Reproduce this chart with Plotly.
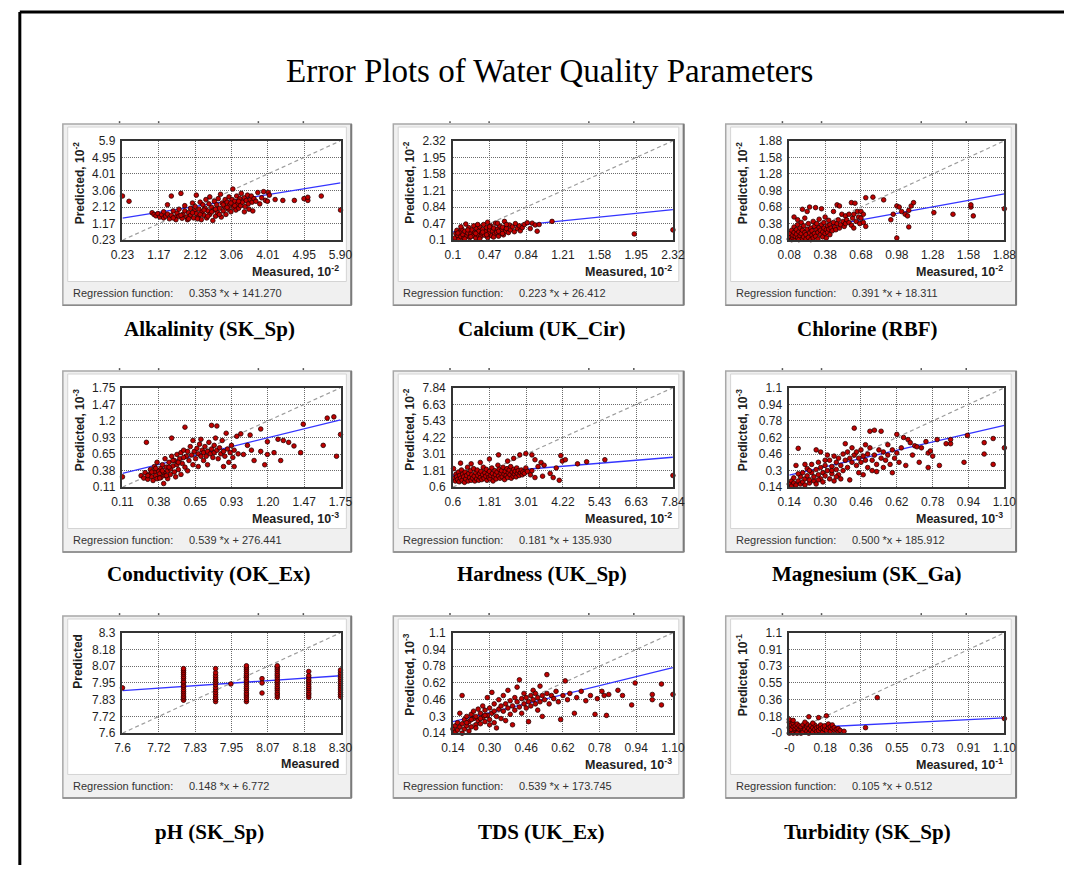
import numpy as np
import plotly.graph_objects as go

W, H = 1076, 872

# ---------------- data (display units) ----------------
alk_pts = [(0.23,2.75),(0.40,2.45),(1.00,1.80),(1.05,1.70),(1.10,1.62),(1.15,1.75),(1.20,1.55),(1.25,1.68),(1.30,1.50),(1.30,1.85),
 (1.35,1.60),(1.40,1.72),(1.40,2.25),(1.45,1.45),(1.50,1.65),(1.50,2.75),(1.55,1.90),(1.60,1.55),(1.62,1.40),(1.65,1.78),
 (1.70,1.60),(1.70,2.00),(1.75,2.90),(1.78,1.48),(1.80,1.70),(1.85,1.90),(1.85,2.20),(1.90,1.55),(1.92,1.40),(1.95,1.80),
 (2.00,2.05),(2.00,1.65),(2.05,2.35),(2.08,1.50),(2.10,1.90),(2.12,2.15),(2.15,1.75),(2.15,2.80),(2.20,1.55),(2.22,2.00),
 (2.25,2.40),(2.28,1.40),(2.30,1.85),(2.32,2.25),(2.35,1.65),(2.38,2.05),(2.40,2.55),(2.42,1.50),(2.45,1.90),(2.48,2.30),
 (2.50,1.70),(2.50,2.70),(2.55,2.10),(2.58,1.35),(2.60,1.95),(2.62,2.45),(2.65,1.60),(2.68,2.25),(2.70,1.80),(2.72,2.60),
 (2.75,2.05),(2.78,2.85),(2.80,1.55),(2.82,2.35),(2.85,1.90),(2.88,2.15),(2.90,2.55),(2.92,1.70),(2.95,2.40),(2.98,2.00),
 (3.00,2.70),(3.02,2.25),(3.05,1.85),(3.08,2.55),(3.10,3.15),(3.12,2.10),(3.15,2.45),(3.18,1.95),(3.20,2.75),(3.22,2.30),
 (3.25,2.05),(3.28,2.60),(3.30,2.20),(3.32,2.90),(3.35,2.40),(3.40,1.85),(3.40,2.65),(3.42,2.15),(3.45,2.50),(3.48,2.80),
 (3.50,2.30),(3.52,2.00),(3.55,2.55),(3.58,2.75),(3.60,2.40),(3.62,1.90),(3.65,2.60),(3.70,2.45),(3.75,2.95),(3.80,2.30),
 (3.85,2.65),(3.90,3.00),(3.95,2.50),(4.02,2.95),(4.05,2.80),(4.00,2.45),(4.20,2.55),(4.40,2.50),(4.70,2.50),(4.95,2.60),
 (5.05,2.50),(5.05,2.68),(5.40,2.75),(5.90,1.95),(1.55,1.50),(1.75,1.65),(1.95,1.45),(2.05,1.80),(2.25,1.70),(2.35,1.95),
 (2.55,1.85),(2.65,2.00),(2.75,1.70),(2.85,2.25),(2.95,2.10),(3.05,2.35),(3.15,2.20),(3.25,2.45),(2.45,1.60),(2.18,1.45)]

cal_pts = [(0.12,0.15),(0.13,0.25),(0.14,0.32),(0.15,0.20),(0.16,0.12),(0.17,0.28),(0.18,0.18),(0.19,0.35),(0.20,0.22),(0.21,0.14),
 (0.22,0.30),(0.23,0.46),(0.24,0.19),(0.25,0.26),(0.26,0.38),(0.27,0.16),(0.28,0.24),(0.29,0.33),(0.30,0.20),(0.31,0.42),
 (0.32,0.27),(0.33,0.15),(0.34,0.36),(0.35,0.22),(0.36,0.30),(0.37,0.40),(0.38,0.18),(0.39,0.26),(0.40,0.34),(0.41,0.45),
 (0.42,0.21),(0.43,0.29),(0.44,0.38),(0.45,0.16),(0.46,0.25),(0.47,0.33),(0.48,0.42),(0.49,0.20),(0.50,0.30),(0.51,0.37),
 (0.52,0.24),(0.53,0.48),(0.54,0.28),(0.55,0.35),(0.56,0.19),(0.57,0.42),(0.58,0.26),(0.59,0.32),(0.60,0.39),(0.61,0.22),
 (0.62,0.52),(0.63,0.30),(0.64,0.36),(0.66,0.27),(0.67,0.44),(0.68,0.33),(0.70,0.40),(0.72,0.29),(0.73,0.47),(0.75,0.36),
 (0.77,0.42),(0.78,0.31),(0.80,0.38),(0.82,0.45),(0.85,0.49),(0.88,0.36),(0.90,0.48),(0.93,0.44),(0.95,0.30),(0.97,0.45),
 (1.10,0.52),(1.93,0.24),(2.32,0.33),(0.15,0.26),(0.18,0.40),(0.22,0.13),(0.25,0.33),(0.28,0.18),(0.33,0.25),(0.37,0.13),
 (0.40,0.28),(0.44,0.22),(0.47,0.40),(0.51,0.17),(0.56,0.30),(0.60,0.25),(0.64,0.45),(0.35,0.45),(0.45,0.50),(0.55,0.48)]

chl_pts = [(0.08,0.10),(0.09,0.14),(0.09,0.20),(0.10,0.09),(0.10,0.26),(0.11,0.12),(0.11,0.17),(0.12,0.22),(0.12,0.32),(0.13,0.10),
 (0.13,0.15),(0.14,0.27),(0.14,0.19),(0.15,0.12),(0.15,0.36),(0.16,0.23),(0.16,0.09),(0.17,0.16),(0.17,0.30),(0.18,0.20),
 (0.18,0.40),(0.19,0.11),(0.19,0.26),(0.20,0.14),(0.20,0.34),(0.21,0.22),(0.21,0.48),(0.22,0.10),(0.22,0.18),(0.23,0.28),
 (0.23,0.60),(0.24,0.13),(0.24,0.38),(0.25,0.21),(0.25,0.68),(0.26,0.09),(0.26,0.30),(0.27,0.17),(0.27,0.25),(0.28,0.42),
 (0.28,0.12),(0.29,0.33),(0.29,0.20),(0.30,0.67),(0.30,0.15),(0.31,0.27),(0.31,0.38),(0.32,0.10),(0.32,0.22),(0.33,0.31),
 (0.33,0.46),(0.34,0.18),(0.34,0.26),(0.35,0.65),(0.35,0.36),(0.36,0.14),(0.36,0.23),(0.37,0.30),(0.37,0.40),(0.38,0.20),
 (0.38,0.50),(0.39,0.27),(0.39,0.12),(0.40,0.34),(0.40,0.22),(0.41,0.44),(0.41,0.28),(0.42,0.18),(0.42,0.36),(0.43,0.30),
 (0.44,0.25),(0.45,0.40),(0.45,0.60),(0.46,0.32),(0.47,0.27),(0.48,0.38),(0.48,0.72),(0.49,0.45),(0.50,0.30),(0.50,0.70),
 (0.51,0.36),(0.52,0.55),(0.53,0.42),(0.54,0.33),(0.55,0.52),(0.55,0.38),(0.56,0.45),(0.58,0.55),(0.58,0.40),(0.60,0.76),
 (0.60,0.35),(0.61,0.48),(0.62,0.55),(0.62,0.30),(0.63,0.75),(0.64,0.42),(0.65,0.60),(0.66,0.50),(0.67,0.38),(0.68,0.48),
 (0.68,0.60),(0.70,0.40),(0.70,0.55),(0.72,0.33),(0.72,0.85),(0.78,0.86),(0.87,0.81),(0.93,0.45),(0.95,0.55),(0.98,0.70),
 (0.98,0.12),(1.00,0.68),(1.02,0.60),(1.05,0.55),(1.07,0.52),(1.08,0.62),(1.08,0.32),(1.10,0.70),(1.12,0.76),(1.29,0.58),
 (1.45,0.55),(1.60,0.68),(1.60,0.72),(1.62,0.52),(1.88,0.65),(0.19,0.64),(0.12,0.50),(0.15,0.45)]

con_pts = [(0.11,0.28),(0.25,0.30),(0.27,0.26),(0.28,0.35),(0.29,0.85),(0.30,0.24),(0.31,0.32),(0.32,0.40),(0.33,0.28),(0.34,0.22),
 (0.35,0.36),(0.35,0.45),(0.36,0.30),(0.37,0.25),(0.37,0.52),(0.38,0.38),(0.39,0.33),(0.40,0.42),(0.40,0.27),(0.41,0.48),
 (0.42,0.35),(0.42,0.17),(0.43,0.58),(0.43,0.30),(0.44,0.44),(0.45,0.38),(0.45,0.25),(0.46,0.52),(0.47,0.41),(0.47,0.32),
 (0.48,0.62),(0.48,0.92),(0.49,0.46),(0.50,0.36),(0.50,0.55),(0.51,0.28),(0.52,0.48),(0.52,0.65),(0.53,0.40),(0.54,0.58),
 (0.55,0.32),(0.55,0.68),(0.56,0.50),(0.57,0.72),(0.58,0.44),(0.58,1.10),(0.59,0.62),(0.60,0.38),(0.60,0.70),(0.61,0.55),
 (0.62,0.78),(0.63,0.64),(0.64,0.48),(0.64,0.88),(0.65,0.70),(0.66,0.58),(0.67,0.75),(0.68,0.66),(0.68,0.45),(0.69,0.82),
 (0.70,0.62),(0.70,0.90),(0.71,0.72),(0.72,0.55),(0.72,0.68),(0.73,0.78),(0.74,0.62),(0.75,0.70),(0.75,0.48),(0.76,0.85),
 (0.77,0.66),(0.78,0.74),(0.78,1.13),(0.79,0.60),(0.80,0.80),(0.80,0.68),(0.81,0.92),(0.82,0.72),(0.82,1.12),(0.83,0.58),
 (0.84,0.76),(0.85,0.66),(0.86,0.88),(0.87,0.70),(0.87,0.45),(0.88,0.62),(0.89,1.00),(0.90,0.74),(0.91,0.52),(0.92,0.68),
 (0.93,0.80),(0.94,0.60),(0.95,0.72),(0.95,0.45),(0.97,0.95),(0.98,0.66),(1.00,0.99),(1.02,0.65),(1.05,0.80),(1.07,0.97),
 (1.08,0.72),(1.10,0.55),(1.15,1.07),(1.15,0.70),(1.18,0.48),(1.20,0.86),(1.20,0.65),(1.25,0.68),(1.28,0.90),(1.30,0.55),
 (1.32,0.88),(1.36,0.85),(1.40,0.79),(1.45,0.68),(1.47,1.15),(1.62,0.80),(1.65,1.25),(1.70,1.27),(1.72,0.62),(1.75,0.98),
 (0.30,0.30),(0.33,0.36),(0.36,0.42),(0.39,0.26),(0.41,0.38),(0.44,0.30),(0.46,0.44),(0.49,0.55),(0.53,0.52),(0.57,0.60)]

har_pts = [(0.62,1.95),(0.65,1.25),(0.68,1.05),(0.70,1.55),(0.72,1.35),(0.75,1.15),(0.78,1.70),(0.80,1.00),(0.82,1.45),(0.85,2.35),
 (0.85,1.25),(0.88,1.85),(0.90,1.10),(0.92,1.55),(0.95,1.35),(0.98,0.95),(1.00,1.70),(1.02,1.20),(1.05,1.45),(1.08,2.05),
 (1.10,1.05),(1.12,1.60),(1.15,1.30),(1.18,1.80),(1.20,2.30),(1.20,1.10),(1.22,1.50),(1.25,1.25),(1.28,1.95),(1.30,1.40),
 (1.32,1.05),(1.35,1.65),(1.38,1.20),(1.40,1.85),(1.42,1.45),(1.45,1.10),(1.48,1.60),(1.50,2.40),(1.50,1.30),(1.52,1.75),
 (1.55,1.15),(1.58,1.50),(1.60,2.05),(1.62,1.25),(1.65,1.65),(1.68,1.40),(1.70,1.90),(1.72,1.10),(1.75,1.55),(1.78,1.30),
 (1.80,2.65),(1.80,1.75),(1.82,1.20),(1.85,1.45),(1.88,2.00),(1.90,1.60),(1.92,1.05),(1.95,1.35),(1.98,1.80),(2.00,1.50),
 (2.02,1.20),(2.05,1.70),(2.08,2.20),(2.10,2.95),(2.10,1.40),(2.12,1.90),(2.15,1.25),(2.18,1.60),(2.20,1.80),(2.22,1.35),
 (2.25,2.05),(2.28,1.55),(2.30,1.15),(2.32,1.75),(2.35,1.45),(2.38,1.95),(2.40,2.50),(2.40,1.30),(2.42,1.65),(2.45,1.85),
 (2.48,1.50),(2.50,2.10),(2.52,1.25),(2.55,1.70),(2.58,1.40),(2.60,2.70),(2.60,1.90),(2.62,1.55),(2.65,1.75),(2.68,1.35),
 (2.70,2.00),(2.72,1.60),(2.75,1.80),(2.78,1.45),(2.80,2.95),(2.82,1.65),(2.85,1.85),(2.88,1.50),(2.90,1.70),(2.95,1.60),
 (3.00,3.05),(3.00,2.00),(3.05,1.75),(3.15,1.50),(3.20,2.95),(3.20,1.80),(3.30,2.60),(3.30,1.30),(3.40,2.10),(3.50,2.40),
 (3.55,1.40),(3.60,2.20),(3.80,1.60),(3.90,1.30),(4.00,2.00),(4.10,1.10),(4.15,2.90),(4.20,2.50),(4.30,2.60),(4.70,2.30),
 (5.00,2.45),(5.60,2.60),(7.84,1.45)]

mag_pts = [(0.14,0.17),(0.15,0.20),(0.15,0.15),(0.16,0.18),(0.16,0.23),(0.17,0.16),(0.17,0.35),(0.18,0.20),(0.18,0.515),(0.19,0.17),
 (0.19,0.24),(0.20,0.19),(0.20,0.28),(0.21,0.16),(0.21,0.22),(0.22,0.25),(0.22,0.32),(0.23,0.18),(0.23,0.21),(0.24,0.28),
 (0.24,0.36),(0.25,0.20),(0.25,0.24),(0.26,0.31),(0.26,0.17),(0.27,0.26),(0.27,0.38),(0.28,0.22),(0.28,0.33),(0.29,0.28),
 (0.29,0.19),(0.30,0.35),(0.30,0.25),(0.31,0.45),(0.31,0.30),(0.32,0.22),(0.32,0.40),(0.33,0.27),(0.33,0.34),(0.34,0.44),
 (0.34,0.20),(0.35,0.31),(0.35,0.38),(0.36,0.26),(0.36,0.42),(0.37,0.35),(0.37,0.22),(0.38,0.46),(0.38,0.30),(0.39,0.40),
 (0.39,0.56),(0.40,0.33),(0.40,0.48),(0.41,0.42),(0.41,0.21),(0.42,0.38),(0.42,0.52),(0.43,0.45),(0.43,0.71),(0.44,0.35),
 (0.44,0.48),(0.45,0.42),(0.45,0.28),(0.46,0.50),(0.46,0.38),(0.47,0.44),(0.47,0.26),(0.48,0.55),(0.48,0.40),(0.49,0.46),
 (0.49,0.33),(0.50,0.52),(0.50,0.68),(0.51,0.40),(0.51,0.30),(0.52,0.45),(0.52,0.69),(0.53,0.36),(0.53,0.29),(0.54,0.50),
 (0.55,0.42),(0.55,0.68),(0.56,0.48),(0.56,0.33),(0.57,0.40),(0.58,0.55),(0.58,0.45),(0.59,0.36),(0.60,0.50),(0.60,0.28),
 (0.61,0.42),(0.62,0.47),(0.62,0.65),(0.63,0.38),(0.64,0.52),(0.65,0.62),(0.66,0.35),(0.67,0.60),(0.68,0.57),(0.69,0.45),
 (0.70,0.54),(0.71,0.53),(0.72,0.38),(0.73,0.52),(0.75,0.58),(0.76,0.47),(0.77,0.49),(0.78,0.44),(0.76,0.33),(0.80,0.60),
 (0.81,0.35),(0.84,0.56),(0.86,0.56),(0.86,0.60),(0.92,0.38),(0.935,0.64),(1.01,0.57),(1.01,0.46),(1.05,0.61),(1.05,0.36),
 (1.10,0.52),(0.26,0.50),(0.28,0.48),(0.21,0.36),(0.18,0.27),(0.23,0.30),(0.27,0.21),(0.30,0.40),(0.33,0.30),(0.35,0.24)]

ph_pts = [(7.60,7.916),
 (7.796,7.830),(7.796,7.846),(7.796,7.858),(7.796,7.874),(7.796,7.889),(7.796,7.903),(7.796,7.921),(7.796,7.934),
 (7.796,7.951),(7.796,7.963),(7.796,7.982),(7.796,7.994),(7.796,8.011),(7.796,8.024),(7.796,8.038),(7.796,8.050),
 (7.899,7.820),(7.899,7.836),(7.899,7.851),(7.899,7.868),(7.899,7.884),(7.899,7.902),(7.899,7.918),(7.899,7.938),
 (7.899,7.956),(7.899,7.971),(7.899,7.986),(7.899,8.002),(7.899,8.021),(7.899,8.050),
 (7.948,7.943),
 (7.998,7.820),(7.998,7.834),(7.998,7.851),(7.998,7.866),(7.998,7.879),(7.998,7.896),(7.998,7.911),(7.998,7.924),
 (7.998,7.941),(7.998,7.956),(7.998,7.969),(7.998,7.986),(7.998,8.001),(7.998,8.014),(7.998,8.031),(7.998,8.046),
 (7.998,8.059),(7.998,8.070),
 (8.048,7.980),(8.048,7.950),(8.048,7.880),
 (8.097,7.850),(8.097,7.866),(8.097,7.879),(8.097,7.896),(8.097,7.911),(8.097,7.924),(8.097,7.941),(8.097,7.956),
 (8.097,7.969),(8.097,7.986),(8.097,8.001),(8.097,8.014),(8.097,8.031),(8.097,8.046),(8.097,8.059),(8.097,8.070),
 (8.198,7.850),(8.198,7.866),(8.198,7.879),(8.198,7.896),(8.198,7.911),(8.198,7.924),(8.198,7.941),(8.198,7.956),
 (8.198,7.969),(8.198,7.986),(8.198,8.001),(8.198,8.030),
 (8.300,7.855),(8.300,7.870),(8.300,7.884),(8.300,7.901),(8.300,7.915),(8.300,7.931),(8.300,7.946),(8.300,7.960),
 (8.300,7.976),(8.300,7.990),(8.300,8.006),(8.300,8.021),(8.300,8.040)]

tds_pts = [(0.14,0.18),(0.15,0.21),(0.15,0.15),(0.16,0.24),(0.16,0.17),(0.17,0.33),(0.17,0.20),(0.18,0.14),(0.18,0.50),(0.18,0.23),
 (0.19,0.18),(0.19,0.27),(0.20,0.21),(0.20,0.30),(0.21,0.16),(0.21,0.25),(0.22,0.32),(0.22,0.20),(0.23,0.28),(0.23,0.35),
 (0.24,0.22),(0.24,0.30),(0.25,0.26),(0.25,0.37),(0.26,0.23),(0.26,0.33),(0.27,0.29),(0.27,0.40),(0.28,0.25),(0.28,0.36),
 (0.29,0.31),(0.29,0.48),(0.30,0.27),(0.30,0.38),(0.31,0.33),(0.31,0.53),(0.32,0.24),(0.32,0.42),(0.33,0.30),(0.33,0.19),
 (0.34,0.37),(0.34,0.46),(0.35,0.28),(0.35,0.40),(0.36,0.35),(0.36,0.50),(0.37,0.42),(0.37,0.26),(0.38,0.38),(0.38,0.55),
 (0.39,0.45),(0.39,0.32),(0.40,0.40),(0.40,0.22),(0.41,0.48),(0.41,0.36),(0.42,0.44),(0.42,0.58),(0.43,0.39),(0.43,0.65),
 (0.44,0.47),(0.44,0.33),(0.45,0.42),(0.45,0.52),(0.46,0.38),(0.46,0.48),(0.47,0.44),(0.47,0.25),(0.48,0.50),(0.48,0.40),
 (0.49,0.46),(0.49,0.55),(0.50,0.42),(0.50,0.52),(0.51,0.48),(0.51,0.36),(0.52,0.59),(0.52,0.44),(0.53,0.50),(0.53,0.30),
 (0.54,0.46),(0.55,0.70),(0.55,0.52),(0.56,0.42),(0.57,0.50),(0.58,0.47),(0.59,0.54),(0.60,0.44),(0.61,0.27),(0.62,0.50),
 (0.63,0.64),(0.64,0.46),(0.65,0.52),(0.67,0.33),(0.68,0.48),(0.70,0.54),(0.72,0.45),(0.74,0.50),(0.76,0.32),(0.77,0.47),
 (0.79,0.54),(0.80,0.50),(0.81,0.31),(0.82,0.51),(0.86,0.55),(0.88,0.50),(0.92,0.41),(0.935,0.62),(1.01,0.51),(1.01,0.46),
 (1.05,0.61),(1.05,0.41),(1.10,0.51),(0.20,0.24),(0.22,0.27),(0.24,0.19),(0.26,0.28),(0.28,0.31),(0.30,0.22),(0.32,0.35)]

tur_pts = [(0.00,0.00),(0.00,0.06),(0.00,0.12),(0.00,0.15),(0.01,0.02),(0.01,0.09),(0.01,0.04),(0.02,0.00),(0.02,0.07),(0.02,0.11),
 (0.03,0.03),(0.03,0.05),(0.03,0.08),(0.04,0.01),(0.04,0.06),(0.04,0.10),(0.05,0.02),(0.05,0.04),(0.05,0.08),(0.06,0.00),
 (0.06,0.05),(0.06,0.07),(0.07,0.03),(0.07,0.09),(0.07,0.01),(0.08,0.06),(0.08,0.04),(0.09,0.02),(0.09,0.07),(0.09,0.10),
 (0.10,0.00),(0.10,0.05),(0.11,0.03),(0.11,0.08),(0.12,0.06),(0.12,0.01),(0.13,0.04),(0.13,0.09),(0.14,0.02),(0.14,0.06),
 (0.15,0.07),(0.15,0.17),(0.15,0.03),(0.16,0.05),(0.16,0.09),(0.17,0.01),(0.17,0.06),(0.18,0.04),(0.18,0.08),(0.19,0.03),
 (0.19,0.19),(0.20,0.06),(0.20,0.10),(0.21,0.02),(0.21,0.07),(0.22,0.05),(0.22,0.09),(0.23,0.03),(0.23,0.06),(0.24,0.04),
 (0.25,0.02),(0.25,0.05),(0.26,0.03),(0.28,0.02),(0.39,0.06),(0.45,0.39),(1.10,0.16),(0.02,0.14),(0.08,0.12),(0.12,0.11),
 (0.10,0.18),(0.04,0.00)]

alk_xt = ["0.23", "1.17", "2.12", "3.06", "4.01", "4.95", "5.90"]
alk_yt = ["0.23", "1.17", "2.12", "3.06", "4.01", "4.95", "5.9"]
cal_xt = ["0.1", "0.47", "0.84", "1.21", "1.58", "1.95", "2.32"]
cal_yt = ["0.1", "0.47", "0.84", "1.21", "1.58", "1.95", "2.32"]
chl_xt = ["0.08", "0.38", "0.68", "0.98", "1.28", "1.58", "1.88"]
chl_yt = ["0.08", "0.38", "0.68", "0.98", "1.28", "1.58", "1.88"]
con_xt = ["0.11", "0.38", "0.65", "0.93", "1.20", "1.47", "1.75"]
con_yt = ["0.11", "0.38", "0.65", "0.93", "1.2", "1.47", "1.75"]
har_xt = ["0.6", "1.81", "3.01", "4.22", "5.43", "6.63", "7.84"]
har_yt = ["0.6", "1.81", "3.01", "4.22", "5.43", "6.63", "7.84"]
mag_xt = ["0.14", "0.30", "0.46", "0.62", "0.78", "0.94", "1.10"]
mag_yt = ["0.14", "0.3", "0.46", "0.62", "0.78", "0.94", "1.1"]
ph_xt = ["7.6", "7.72", "7.83", "7.95", "8.07", "8.18", "8.30"]
ph_yt = ["7.6", "7.72", "7.83", "7.95", "8.07", "8.18", "8.3"]
tds_xt = ["0.14", "0.30", "0.46", "0.62", "0.78", "0.94", "1.10"]
tds_yt = ["0.14", "0.3", "0.46", "0.62", "0.78", "0.94", "1.1"]
tur_xt = ["-0", "0.18", "0.36", "0.55", "0.73", "0.91", "1.10"]
tur_yt = ["-0", "0.18", "0.36", "0.55", "0.73", "0.91", "1.1"]

captions = ["Alkalinity (SK_Sp)", "Calcium (UK_Cir)", "Chlorine (RBF)",
            "Conductivity (OK_Ex)", "Hardness (UK_Sp)", "Magnesium (SK_Ga)",
            "pH (SK_Sp)", "TDS (UK_Ex)", "Turbidity (SK_Sp)"]
slopes = [0.353, 0.223, 0.391, 0.539, 0.181, 0.500, 0.148, 0.539, 0.105]
intercepts = [141.270, 26.412, 18.311, 276.441, 135.930, 185.912, 6.772, 173.745, 0.512]
exponents = [-2, -2, -2, -3, -2, -3, 0, -3, -1]
title = "Error Plots of Water Quality Parameters"

point_sets = [alk_pts, cal_pts, chl_pts, con_pts, har_pts, mag_pts, ph_pts, tds_pts, tur_pts]
xticks = [alk_xt, cal_xt, chl_xt, con_xt, har_xt, mag_xt, ph_xt, tds_xt, tur_xt]
yticks = [alk_yt, cal_yt, chl_yt, con_yt, har_yt, mag_yt, ph_yt, tds_yt, tur_yt]

# ---------------- layout geometry (pixels) ----------------
col_plot = [(113, 336), (451, 676), (795, 1015)]
row_plot = [(136, 237), (387, 488), (636, 738)]
col_panel = [(52, 347), (390, 687), (730, 1027)]
caption_x = [202, 542, 875]
caption_y = [327, 576, 838]


def fx(p):
    return p / W


def fy(p):
    return 1 - p / H


fig = go.Figure()
shapes = []
annotations = []
layout = {}

SANS = "Liberation Sans, Arial, sans-serif"
SERIF = "Liberation Serif, Times New Roman, serif"

for i in range(9):
    r, c = divmod(i, 3)
    sfx = "" if i == 0 else str(i + 1)
    x0, x1 = col_plot[c]
    y0, y1 = row_plot[r]
    pl, pr = col_panel[c]
    ptop = y0 - 17
    pbot = y1 + 66
    sep = y1 + 42

    # panel frame
    shapes.append(dict(type="rect", xref="paper", yref="paper", layer="below",
                       x0=fx(pl), x1=fx(pr), y0=fy(pbot), y1=fy(ptop),
                       fillcolor="#f0f0f0", line=dict(color="#a8a8a8", width=1.5)))
    shapes.append(dict(type="rect", xref="paper", yref="paper", layer="below",
                       x0=fx(pl + 5), x1=fx(pr - 5), y0=fy(sep), y1=fy(ptop + 3),
                       fillcolor="white", line=dict(color="#d4d4d4", width=1)))
    shapes.append(dict(type="line", xref="paper", yref="paper", layer="below",
                       x0=fx(pr), x1=fx(pr), y0=fy(pbot), y1=fy(ptop),
                       line=dict(color="#7a7a7a", width=2)))
    shapes.append(dict(type="line", xref="paper", yref="paper", layer="below",
                       x0=fx(pl), x1=fx(pr), y0=fy(pbot), y1=fy(pbot),
                       line=dict(color="#8a8a8a", width=1.5)))
    for off in (58, 98, 200, 246):
        shapes.append(dict(type="line", xref="paper", yref="paper", layer="below",
                           x0=fx(pl + off), x1=fx(pl + off), y0=fy(ptop - 1), y1=fy(ptop - 3),
                           line=dict(color="#555555", width=1.5)))

    xt = xticks[i]
    yt = yticks[i]
    lo, hi = float(xt[0]), float(xt[-1])
    ylo, yhi = float(yt[0]), float(yt[-1])
    tick_font = dict(family=SANS, size=12, color="#1e1e1e")
    common = dict(showgrid=True, gridcolor="#6a6a6a", griddash="1px,1px", gridwidth=1,
                  showline=True, mirror=True, linecolor="#333333", linewidth=1.5,
                  zeroline=False, ticks="", tickfont=tick_font, fixedrange=True)
    layout["xaxis" + sfx] = dict(domain=[fx(x0), fx(x1)], range=[lo, hi], anchor="y" + sfx,
                                 tickmode="array", tickvals=list(np.linspace(lo, hi, 7)),
                                 ticktext=xt, ticklabelstandoff=3, **common)
    layout["yaxis" + sfx] = dict(domain=[fy(y1), fy(y0)], range=[ylo, yhi], anchor="x" + sfx,
                                 tickmode="array", tickvals=list(np.linspace(ylo, yhi, 7)),
                                 ticktext=yt, ticklabelstandoff=3, **common)

    xa = "x" + sfx
    ya = "y" + sfx
    # 1:1 reference line
    fig.add_trace(go.Scatter(x=[lo, hi], y=[ylo, yhi], mode="lines", xaxis=xa, yaxis=ya,
                             line=dict(color="#9c9c9c", width=1.2, dash="4px,3px"),
                             hoverinfo="skip"))
    # regression line (from the printed coefficients, in original units)
    scale = 10 ** (-exponents[i])
    rx = np.array([lo, hi])
    ry = (slopes[i] * rx * scale + intercepts[i]) / scale
    fig.add_trace(go.Scatter(x=rx, y=ry, mode="lines", xaxis=xa, yaxis=ya,
                             line=dict(color="#3434ff", width=1.3), hoverinfo="skip"))
    px_, py_ = zip(*point_sets[i])
    fig.add_trace(go.Scatter(x=px_, y=py_, mode="markers", xaxis=xa, yaxis=ya, cliponaxis=False,
                             marker=dict(size=4.6, color="#c00000",
                                         line=dict(color="#2a0000", width=0.8))))

    # axis titles
    e = exponents[i]
    sup = f", 10<sup>{e}</sup>" if e != 0 else ""
    annotations.append(dict(xref="paper", yref="paper", x=fx(pl + 16), y=fy(y0 - 1),
                            xanchor="center", yanchor="top", textangle=-90, showarrow=False,
                            text=f"<b>Predicted{sup}</b>",
                            font=dict(family=SANS, size=12, color="#1e1e1e")))
    annotations.append(dict(xref="paper", yref="paper", x=fx(x1 + 1), y=fy(y1 + 31),
                            xanchor="right", yanchor="middle", showarrow=False,
                            text=f"<b>Measured{sup}</b>",
                            font=dict(family=SANS, size=12.5, color="#1e1e1e")))
    annotations.append(dict(xref="paper", yref="paper", x=fx(pl + 8), y=fy(y1 + 54),
                            xanchor="left", yanchor="middle", showarrow=False,
                            text="Regression function:",
                            font=dict(family=SANS, size=11, color="#333333")))
    annotations.append(dict(xref="paper", yref="paper", x=fx(pl + 127), y=fy(y1 + 54),
                            xanchor="left", yanchor="middle", showarrow=False,
                            text=f"{slopes[i]:.3f} *x + {intercepts[i]:.3f}",
                            font=dict(family=SANS, size=11, color="#333333")))
    annotations.append(dict(xref="paper", yref="paper", x=fx(caption_x[c]), y=fy(caption_y[r]),
                            xanchor="center", yanchor="middle", showarrow=False,
                            text=f"<b>{captions[i]}</b>",
                            font=dict(family=SERIF, size=21, color="black")))

annotations.append(dict(xref="paper", yref="paper", x=fx(550), y=fy(65),
                        xanchor="center", yanchor="middle", showarrow=False,
                        text=title, font=dict(family=SERIF, size=33, color="black")))

# outer page frame (top and left edges)
shapes.append(dict(type="line", xref="paper", yref="paper", x0=fx(8), x1=1, y0=fy(5), y1=fy(5),
                   line=dict(color="black", width=3)))
shapes.append(dict(type="line", xref="paper", yref="paper", x0=fx(8), x1=fx(8), y0=0, y1=fy(5),
                   line=dict(color="black", width=3)))

fig.update_layout(width=W, height=H, margin=dict(l=0, r=0, t=0, b=0),
                  paper_bgcolor="white", plot_bgcolor="white", showlegend=False,
                  shapes=shapes, annotations=annotations, **layout)

fig.write_html("out.html")
